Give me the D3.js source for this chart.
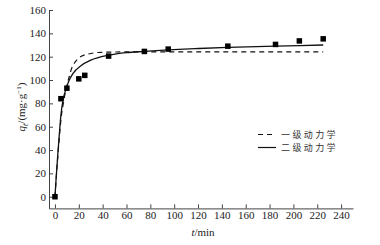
<!DOCTYPE html>
<html>
<head>
<meta charset="utf-8">
<script src="https://cdn.jsdelivr.net/npm/d3@7"></script>
<style>
  body { margin: 0; background: #fff; }
  svg { display: block; }
  .tick text { font-family: "Liberation Serif", "DejaVu Serif", serif; font-size: 11px; fill: #222; }
  .axis path, .axis line { stroke: #444; stroke-width: 1; }
  .axis-title { font-family: "Liberation Serif", serif; font-size: 11px; fill: #222; }
  .legend text { font-family: "Noto Sans CJK SC", sans-serif; font-size: 9px; letter-spacing: 2.4px; fill: #333; }
</style>
</head>
<body>
<div id="chart"></div>
<script>
//Data
const timePoints = [0, 5, 10, 20, 25, 45, 75, 95, 145, 185, 205, 225];
const qtPoints = [0, 84, 93, 101, 104, 120.5, 124.5, 126.5, 129, 130.5, 133.5, 135.3];

//Fitted curves
const firstOrderT = [0, 1, 2.5, 4, 5, 7, 9.5, 12, 14, 17, 19.5, 23, 28, 36, 50, 80, 225];
const firstOrderQ = [0, 15, 36, 55, 66, 80, 93, 103, 110, 115.5, 118.5, 120.8, 122.3, 123.6, 124, 124.2, 124.2];
const secondOrderT = [0, 1, 2.5, 4, 5, 7, 9.5, 12, 15, 22, 30, 45, 60, 75, 95, 120, 145, 185, 225];
const secondOrderQ = [0, 16, 38, 58, 70, 84, 93, 100, 105.5, 112.5, 117, 121.3, 123.5, 124.5, 125.8, 127, 128, 129, 130];

const xTicks = [0, 20, 40, 60, 80, 100, 120, 140, 160, 180, 200, 220, 240];
const yTicks = [0, 20, 40, 60, 80, 100, 120, 140, 160];
const legendLabels = ["一级动力学", "二级动力学"];

//Size
const width = 380, height = 245;

const svg = d3.select("#chart")
  .append("svg")
  .attr("width", width)
  .attr("height", height);

//Scales
const xScale = d3.scaleLinear().domain([-5, 250]).range([49, 353]);
const yScale = d3.scaleLinear().domain([-10, 160]).range([208.4, 10]);

//Axes
const xAxis = d3.axisBottom(xScale)
  .tickValues(xTicks)
  .tickSizeInner(-4)
  .tickSizeOuter(0)
  .tickPadding(3);
const yAxis = d3.axisLeft(yScale)
  .tickValues(yTicks)
  .tickSizeInner(-4)
  .tickSizeOuter(0)
  .tickPadding(3);

svg.append("g")
  .attr("class", "axis")
  .attr("transform", "translate(0," + yScale(-10) + ")")
  .call(xAxis);
svg.append("g")
  .attr("class", "axis")
  .attr("transform", "translate(" + xScale(-5) + ",0)")
  .call(yAxis);

//Lines
const line = d3.line()
  .x(function(d) { return xScale(d[0]); })
  .y(function(d) { return yScale(d[1]); })
  .curve(d3.curveMonotoneX);

svg.append("path")
  .datum(d3.zip(firstOrderT, firstOrderQ))
  .attr("fill", "none")
  .attr("stroke", "#111")
  .attr("stroke-width", 1.2)
  .attr("stroke-dasharray", "5,4")
  .attr("d", line);

svg.append("path")
  .datum(d3.zip(secondOrderT, secondOrderQ))
  .attr("fill", "none")
  .attr("stroke", "#111")
  .attr("stroke-width", 1.3)
  .attr("d", line);

//Points
const size = 5.5;
svg.append("g")
  .selectAll("rect")
  .data(d3.zip(timePoints, qtPoints))
  .join("rect")
  .attr("x", function(d) { return xScale(d[0]) - size / 2; })
  .attr("y", function(d) { return yScale(d[1]) - size / 2; })
  .attr("width", size)
  .attr("height", size)
  .attr("fill", "#000");

//Axis titles
const xTitle = svg.append("text")
  .attr("class", "axis-title")
  .attr("x", 203)
  .attr("y", 236)
  .style("text-anchor", "middle");
xTitle.append("tspan").style("font-style", "italic").text("t");
xTitle.append("tspan").text("/min");

const yTitle = svg.append("text")
  .attr("class", "axis-title")
  .attr("transform", "translate(25,107) rotate(-90)")
  .style("text-anchor", "middle");
yTitle.append("tspan").style("font-style", "italic").text("q");
yTitle.append("tspan").style("font-style", "italic").style("font-size", "8px").attr("dy", 3).text("t");
yTitle.append("tspan").attr("dy", -3).text("/(mg·g");
yTitle.append("tspan").style("font-size", "7px").attr("dy", -4).text("−1");
yTitle.append("tspan").attr("dy", 4).text(")");

//Legend
const legend = svg.append("g").attr("class", "legend");
const legendY = [134.5, 147.5];
legend.selectAll("line")
  .data(legendLabels)
  .join("line")
  .attr("x1", 258)
  .attr("x2", 276)
  .attr("y1", function(d, i) { return legendY[i]; })
  .attr("y2", function(d, i) { return legendY[i]; })
  .attr("stroke", "#111")
  .attr("stroke-width", 1.2)
  .attr("stroke-dasharray", function(d, i) { return i === 0 ? "5,4" : null; });
legend.selectAll("text")
  .data(legendLabels)
  .join("text")
  .attr("x", 281)
  .attr("y", function(d, i) { return legendY[i] + 3.3; })
  .text(function(d) { return d; });
</script>
</body>
</html>
